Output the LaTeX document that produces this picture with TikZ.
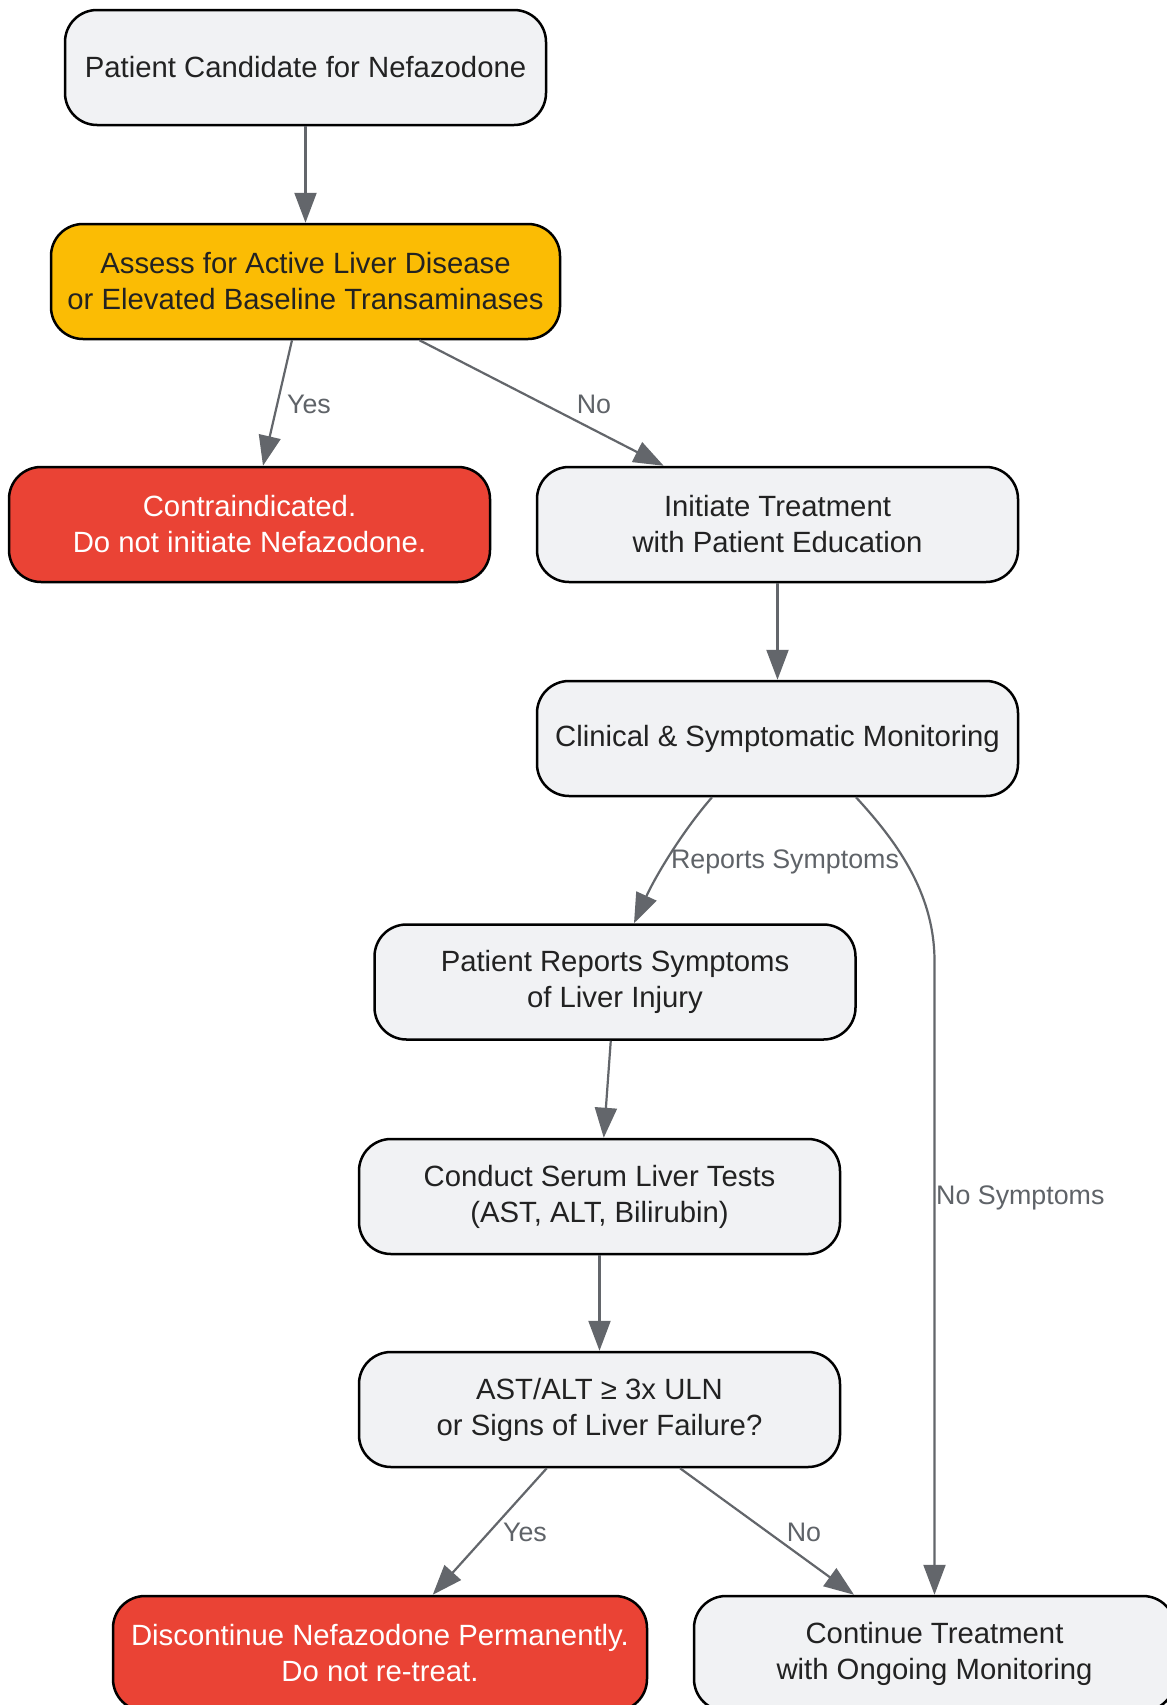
\documentclass[tikz,border=0pt]{standalone}
\usepackage{fontspec}
\setmainfont{Liberation Sans}
\usetikzlibrary{arrows.meta,calc}
\definecolor{nodefill}{HTML}{F1F2F4}
\definecolor{amber}{HTML}{FBBC04}
\definecolor{alert}{HTML}{EA4335}
\definecolor{edgegray}{HTML}{63666B}
\definecolor{txt}{HTML}{222222}
\definecolor{lblgray}{HTML}{5F6368}
\begin{document}
\begin{tikzpicture}[x=1pt,y=-1pt,
  box/.style={draw=black, line width=2.5pt, rounded corners=32pt, fill=nodefill,
    minimum width=481pt, minimum height=115pt, align=center, inner sep=0pt,
    text=txt, font=\fontsize{29.3}{36}\selectfont},
  warnbox/.style={box, fill=amber},
  stopbox/.style={box, fill=alert, text=white},
  edge/.style={draw=edgegray, line width=2.2pt, -{Triangle[length=30pt,width=22pt]}},
  lbl/.style={text=lblgray, font=\fontsize{26.8}{31}\selectfont, inner sep=0pt}]
\useasboundingbox (0,0) rectangle (1167,1705);
\clip (0,0) rectangle (1167,1705);
\fill[white] (0,0) rectangle (1167,1705);

\node[box] (n1) at (305.5,67.5) {Patient Candidate for Nefazodone};
\node[warnbox, minimum width=509pt] (n2) at (305.5,281.5) {Assess for Active Liver Disease\\or Elevated Baseline Transaminases};
\node[stopbox] (n3) at (249.5,524.5) {Contraindicated.\\Do not initiate Nefazodone.};
\node[box] (n4) at (777.5,524.5) {Initiate Treatment\\with Patient Education};
\node[box] (n5) at (777.5,738.5) {Clinical \& Symptomatic Monitoring};
\node[box] (n6) at (615,982) {Patient Reports Symptoms\\of Liver Injury};
\node[box] (n7) at (599.5,1196.5) {Conduct Serum Liver Tests\\(AST, ALT, Bilirubin)};
\node[box] (n8) at (599.5,1409.5) {AST/ALT ≥ 3x ULN\\or Signs of Liver Failure?};
\node[stopbox, minimum width=534pt] (n9) at (380,1653.5) {Discontinue Nefazodone Permanently.\\Do not re-treat.};
\node[box] (n10) at (934.5,1653.5) {Continue Treatment\\with Ongoing Monitoring};

\draw[edge] (n1) -- (n2);
\draw[edge] (n2) -- (n3);
\draw[edge] (n2) -- (n4);
\draw[edge] (n4) -- (n5);
\draw[edge] ($(n5.south)+(-65.5,0)$) .. controls ($(n5.south)+(-95,34)$) and ($(n6.north)+(41,-48)$) .. ($(n6.north)+(19,0)$);
\draw[edge] ($(n5.south)+(78.5,0)$) .. controls ($(n5.south)+(117,42)$) and ($(n5.south)+(157,94)$) .. ($(n5.south)+(157,164)$) -- (n10.north);
\draw[edge] (n6) -- (n7);
\draw[edge] (n7) -- (n8);
\draw[edge] (n8) -- (n9);
\draw[edge] (n8) -- (n10);

\node[lbl] (l1) at (309,404) {Yes};
\node[lbl] (l2) at (594,404) {No};
\node[lbl] (l3) at (785,862) {Reports Symptoms};
\node[lbl, anchor=west] (l4) at (936,1198) {No Symptoms};
\node[lbl] (l5) at (525,1532) {Yes};
\node[lbl] (l6) at (804,1532) {No};
\end{tikzpicture}
\end{document}
